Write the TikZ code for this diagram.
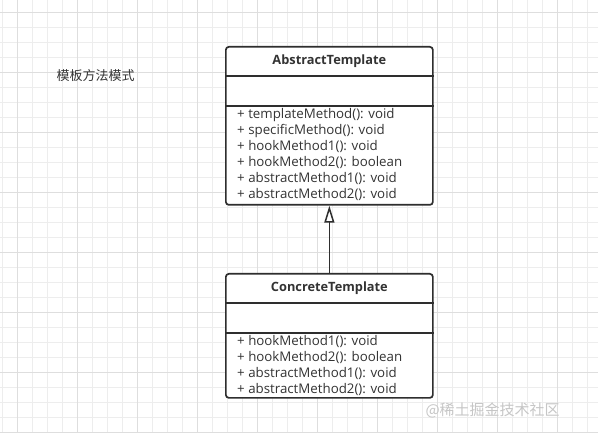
\documentclass[tikz,border=0pt]{standalone}
\usepackage{fontspec}
\setmainfont{Open Sans}
\newfontfamily\cjk{Noto Sans CJK SC}
\usetikzlibrary{positioning}
\usetikzlibrary{arrows.meta}
\definecolor{umlline}{HTML}{2E2E2E}
\definecolor{umltext}{HTML}{333333}
\definecolor{gridminor}{HTML}{EDEDED}
\definecolor{gridmajor}{HTML}{DEDEDE}

\begin{document}
\begin{tikzpicture}[x=1pt,y=-1pt,
            classbox/.style={rectangle, draw=umlline, fill=white, line width=1.7pt, rounded corners=3pt, minimum width=207pt, inner sep=0pt, anchor=north west},
            sepline/.style={draw=umlline, line width=1.7pt},
            classtitle/.style={text=umltext, font=\bfseries\fontsize{12.8}{15}\selectfont, inner sep=0pt},
            methodlist/.style={text=umltext, align=left, anchor=north west, inner sep=0pt, font=\fontsize{13.3}{16}\selectfont},
            realize/.style={draw=umlline, line width=1.5pt, -{Triangle[open, length=17pt, width=10pt, fill=white]}},
        ]
        \useasboundingbox (0,0) rectangle (598,433);
        \fill[white] (0,0) rectangle (598,433);
        % grid
        \foreach \gx in {2,17,...,597} \draw[gridminor, line width=0.8pt] (\gx,0) -- (\gx,433);
        \foreach \gy in {12,27,...,432} \draw[gridminor, line width=0.8pt] (0,\gy) -- (598,\gy);
        \foreach \gx in {17,77,...,597} \draw[gridmajor, line width=0.8pt] (\gx,0) -- (\gx,433);
        \foreach \gy in {12,72,...,432} \draw[gridmajor, line width=0.8pt] (0,\gy) -- (598,\gy);

        \node[anchor=west, text=umltext, font=\cjk\fontsize{13}{15}\selectfont] (caption) at (53,76) {模板方法模式};

        % abstract class
        \node[classbox, minimum height=158pt] (abstract) at (225,46) {};
        \draw[sepline] ([yshift=-30pt]abstract.north west) -- ([yshift=-30pt]abstract.north east);
        \draw[sepline] ([yshift=-60pt]abstract.north west) -- ([yshift=-60pt]abstract.north east);
        \node[classtitle] (abstracttitle) at ([yshift=-15pt]abstract.north) {AbstractTemplate};
        \node[methodlist] (abstractops) at ([xshift=12pt,yshift=-62pt]abstract.north west) {+ templateMethod(): void\\+ specificMethod(): void\\+ hookMethod1(): void\\+ hookMethod2(): boolean\\+ abstractMethod1(): void\\+ abstractMethod2(): void};

        % concrete class
        \node[classbox, minimum height=124pt] (concrete) at (225,273) {};
        \draw[sepline] ([yshift=-30pt]concrete.north west) -- ([yshift=-30pt]concrete.north east);
        \draw[sepline] ([yshift=-60pt]concrete.north west) -- ([yshift=-60pt]concrete.north east);
        \node[classtitle] (concretetitle) at ([yshift=-15pt]concrete.north) {ConcreteTemplate};
        \node[methodlist] (concreteops) at ([xshift=12pt,yshift=-62pt]concrete.north west) {+ hookMethod1(): void\\+ hookMethod2(): boolean\\+ abstractMethod1(): void\\+ abstractMethod2(): void};

        \draw[realize] (concrete.north) -- (abstract.south);

        \node[anchor=west, text=gray!45, font=\cjk\fontsize{15}{17}\selectfont] (watermark) at (422,410) {@稀土掘金技术社区};
    \end{tikzpicture}
\end{document}
